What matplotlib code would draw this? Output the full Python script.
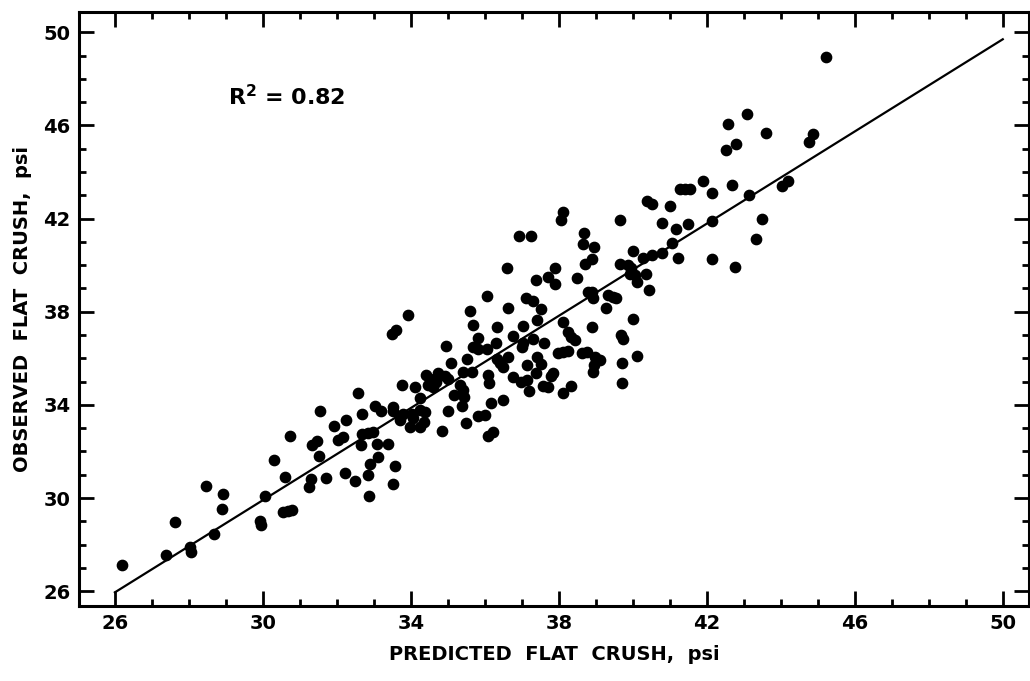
import matplotlib
matplotlib.use("Agg")
import matplotlib.pyplot as plt
from matplotlib.ticker import MultipleLocator

# predicted vs observed flat crush (psi)
x_pred = [
    26.19, 27.37, 28.03, 28.05, 27.62, 28.68, 28.46, 28.92, 28.89, 29.92,
    29.95, 30.05, 30.30, 30.59, 30.55, 30.68, 30.80, 30.73, 31.54, 31.33,
    31.46, 31.52, 31.29, 31.26, 31.72, 31.93, 32.24, 32.03, 32.17, 32.22,
    36.07, 36.63, 37.10, 35.60, 33.92, 33.48, 33.59, 35.67, 36.33, 37.04,
    35.81, 36.75, 34.94, 35.68, 35.82, 36.06, 36.29, 37.04, 37.00, 35.51,
    35.08, 36.32, 36.41, 36.49, 36.63, 37.13, 35.41, 35.64, 36.09, 36.12,
    36.77, 36.98, 37.14, 34.74, 34.92, 35.01, 34.42, 34.51, 34.47, 34.60,
    34.69, 33.77, 34.11, 34.26, 35.32, 35.40, 35.43, 35.16, 32.57, 33.03,
    33.19, 33.51, 33.52, 33.79, 33.70, 34.02, 34.06, 34.24, 34.38, 35.01,
    35.37, 36.18, 36.49, 32.69, 32.69, 32.85, 32.98, 32.65, 33.09, 33.37,
    33.12, 32.89, 33.57, 32.48, 32.85, 33.52, 33.97, 34.24, 34.36, 34.85,
    35.48, 35.82, 36.00, 36.09, 36.21, 32.87,
    36.61, 37.37, 37.71, 37.89, 37.89, 38.48, 38.66, 38.95, 38.70, 38.91,
    40.01, 39.65, 39.87, 39.96, 39.92, 40.05, 40.10, 40.35, 40.28, 40.51,
    40.80, 41.07, 41.23, 40.43, 38.79, 38.91, 38.93, 39.33, 39.47, 39.54,
    39.27, 37.31, 37.53, 37.41, 38.11, 40.01, 38.90, 37.31, 38.25, 38.34,
    38.43, 37.60, 39.69, 39.74, 40.10, 39.72, 39.72, 37.98, 38.12, 38.25,
    38.63, 38.76, 38.97, 39.11, 38.95, 38.93, 37.40, 37.53, 37.38, 37.80,
    37.85, 37.56, 37.71, 38.32, 37.19, 38.11,
    41.90, 41.27, 41.41, 41.54, 42.15, 42.67, 43.14, 44.02, 44.20, 41.00,
    40.80, 41.18, 41.49, 42.13, 43.48, 42.15, 42.76, 43.32,
    43.10, 42.58, 43.59, 42.51, 42.80, 44.86, 44.75, 40.37, 40.53, 39.65,
    45.22, 38.12, 38.07, 36.92, 37.24, 38.68,
]
y_obs = [
    27.12, 27.55, 27.90, 27.67, 28.98, 28.45, 30.51, 30.18, 29.53, 29.02,
    28.83, 30.08, 31.64, 30.91, 29.40, 29.45, 29.48, 32.67, 33.73, 32.27,
    32.43, 31.81, 30.81, 30.48, 30.86, 33.08, 33.37, 32.51, 32.63, 31.07,
    38.67, 38.18, 38.57, 38.02, 37.85, 37.03, 37.21, 37.43, 37.34, 37.38,
    36.88, 36.95, 36.55, 36.49, 36.40, 36.39, 36.65, 36.64, 36.49, 35.97,
    35.79, 35.99, 35.78, 35.63, 36.06, 35.70, 35.42, 35.42, 35.27, 34.92,
    35.18, 34.99, 35.06, 35.35, 35.23, 35.13, 35.27, 35.13, 34.85, 34.77,
    34.99, 34.85, 34.75, 34.30, 34.85, 34.63, 34.34, 34.42, 34.49, 33.94,
    33.74, 33.91, 33.74, 33.63, 33.34, 33.60, 33.42, 33.77, 33.70, 33.74,
    33.94, 34.10, 34.20, 33.60, 32.77, 32.80, 32.83, 32.27, 32.31, 32.30,
    31.77, 31.48, 31.38, 30.72, 30.98, 30.62, 33.05, 33.05, 33.27, 32.87,
    33.24, 33.51, 33.56, 32.67, 32.84, 30.09,
    39.88, 39.38, 39.50, 39.21, 39.88, 39.43, 40.89, 40.78, 40.07, 40.26,
    40.61, 40.07, 40.00, 39.86, 39.64, 39.57, 39.28, 39.60, 40.29, 40.43,
    40.53, 40.95, 40.29, 38.92, 38.85, 38.85, 38.57, 38.71, 38.64, 38.57,
    38.18, 38.46, 38.10, 37.64, 37.56, 37.68, 37.35, 36.82, 37.13, 36.92,
    36.78, 36.64, 36.99, 36.85, 36.10, 35.80, 34.94, 36.21, 36.27, 36.32,
    36.21, 36.27, 36.06, 35.92, 35.70, 35.42, 36.06, 35.75, 35.39, 35.23,
    35.35, 34.81, 34.75, 34.81, 34.60, 34.49,
    43.62, 43.25, 43.25, 43.25, 43.12, 43.43, 43.00, 43.40, 43.62, 42.53,
    41.83, 41.54, 41.76, 41.89, 42.00, 40.25, 39.92, 41.11,
    46.47, 46.08, 45.68, 44.94, 45.19, 45.62, 45.29, 42.76, 42.62, 41.96,
    48.92, 42.29, 41.93, 41.24, 41.26, 41.36,
]

# fitted line end points
fit_x = [26.0, 50.0]
fit_y = [25.95, 49.7]

fig = plt.figure(figsize=(10.3, 6.81), dpi=100)
ax = fig.add_axes([0.0767, 0.110, 0.922, 0.872])

ax.scatter(x_pred, y_obs, s=55, color="black", zorder=3)
ax.plot(fit_x, fit_y, color="black", lw=1.6)

ax.text(29.05, 47.25, "R$^\\mathbf{2}$ = 0.82", fontsize=16, fontweight="bold",
        va="center", ha="left")

ax.set_xlim(25.03, 50.70)
ax.set_ylim(25.36, 50.86)
ax.xaxis.set_major_locator(MultipleLocator(4))
ax.xaxis.set_minor_locator(MultipleLocator(1))
ax.yaxis.set_major_locator(MultipleLocator(4))
ax.yaxis.set_minor_locator(MultipleLocator(1))
ax.set_xticks(range(26, 51, 4))
ax.set_yticks(range(26, 51, 4))

ax.tick_params(which="both", direction="in", top=True, right=True, width=2)
ax.tick_params(which="major", length=11, labelsize=14, pad=6)
ax.tick_params(which="minor", length=5)
for lab in ax.get_xticklabels() + ax.get_yticklabels():
    lab.set_fontweight("bold")

for sp in ax.spines.values():
    sp.set_linewidth(2.2)

ax.set_xlabel("PREDICTED  FLAT  CRUSH,  psi", fontsize=14, fontweight="bold", labelpad=8)
ax.set_ylabel("OBSERVED  FLAT  CRUSH,  psi", fontsize=14, fontweight="bold", labelpad=8)

fig.savefig("out.png", dpi=100)
